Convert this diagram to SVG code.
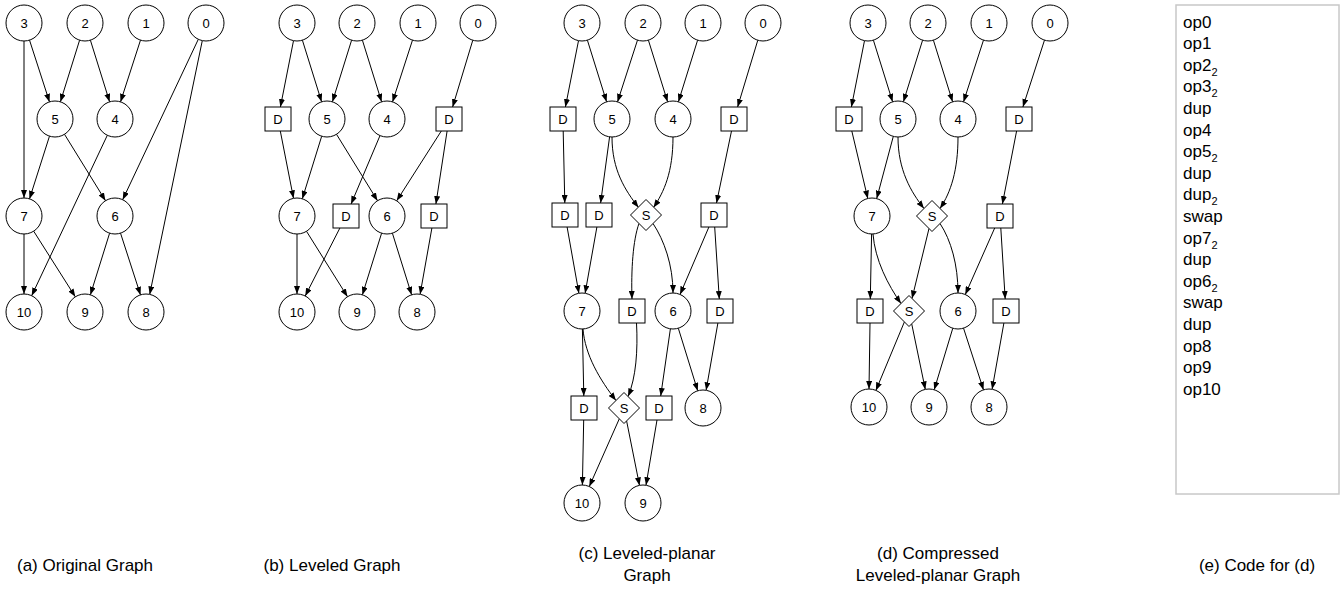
<svg xmlns="http://www.w3.org/2000/svg" width="1344" height="601" viewBox="0 0 1344 601">
  <defs>
    <marker id="arrow" markerUnits="userSpaceOnUse" markerWidth="8" markerHeight="6" refX="8" refY="3" orient="auto">
      <path d="M0,0 L8,3 L0,6 z" fill="#000"/>
    </marker>
    <style>
      .op circle { fill: #fff; stroke: #000; stroke-width: 1; }
      .dup rect { fill: #fff; stroke: #000; stroke-width: 1; }
      .swap path { fill: #fff; stroke: #000; stroke-width: 1; }
      .lbl { font-family: "Liberation Sans", Arial, sans-serif; font-size: 13px; text-anchor: middle; fill: #000; }
      .edges line, .edges path { stroke: #000; stroke-width: 1; fill: none; marker-end: url(#arrow); }
      .cap { font-family: "Liberation Sans", Arial, sans-serif; font-size: 17px; text-anchor: middle; fill: #000; }
      .code { font-family: "Liberation Sans", Arial, sans-serif; font-size: 17px; fill: #000; }
      .sub { font-size: 11px; }
    </style>
  </defs>
  <rect width="1344" height="601" fill="#fff"/>

  <!-- (a) original graph -->
  <g id="graph-a">
    <g class="edges" id="a-edges">
      <line x1="29.5" y1="40.1" x2="49.5" y2="101.9"/>
      <line x1="24" y1="41" x2="24" y2="198"/>
      <line x1="79.6" y1="40.2" x2="60.4" y2="101.8"/>
      <line x1="90.4" y1="40.2" x2="109.6" y2="101.8"/>
      <line x1="140.5" y1="40.1" x2="120.5" y2="101.9"/>
      <line x1="198.3" y1="39.3" x2="122.7" y2="199.7"/>
      <line x1="202.3" y1="40.6" x2="149.7" y2="294.4"/>
      <line x1="49.5" y1="136.1" x2="29.5" y2="198.9"/>
      <line x1="64.5" y1="134.3" x2="105.5" y2="200.7"/>
      <line x1="107.3" y1="135.3" x2="31.7" y2="295.7"/>
      <line x1="24" y1="234" x2="24" y2="294"/>
      <line x1="33.7" y1="231.2" x2="75.3" y2="296.8"/>
      <line x1="109.6" y1="233.2" x2="90.4" y2="294.8"/>
      <line x1="120.5" y1="233.1" x2="140.5" y2="294.9"/>
    </g>
    <g id="a-n3" class="op"><circle cx="24" cy="23" r="18"/><text class="lbl" x="24" y="27.5">3</text></g>
    <g id="a-n2" class="op"><circle cx="85" cy="23" r="18"/><text class="lbl" x="85" y="27.5">2</text></g>
    <g id="a-n1" class="op"><circle cx="146" cy="23" r="18"/><text class="lbl" x="146" y="27.5">1</text></g>
    <g id="a-n0" class="op"><circle cx="206" cy="23" r="18"/><text class="lbl" x="206" y="27.5">0</text></g>
    <g id="a-n5" class="op"><circle cx="55" cy="119" r="18"/><text class="lbl" x="55" y="123.5">5</text></g>
    <g id="a-n4" class="op"><circle cx="115" cy="119" r="18"/><text class="lbl" x="115" y="123.5">4</text></g>
    <g id="a-n7" class="op"><circle cx="24" cy="216" r="18"/><text class="lbl" x="24" y="220.5">7</text></g>
    <g id="a-n6" class="op"><circle cx="115" cy="216" r="18"/><text class="lbl" x="115" y="220.5">6</text></g>
    <g id="a-n10" class="op"><circle cx="24" cy="312" r="18"/><text class="lbl" x="24" y="316.5">10</text></g>
    <g id="a-n9" class="op"><circle cx="85" cy="312" r="18"/><text class="lbl" x="85" y="316.5">9</text></g>
    <g id="a-n8" class="op"><circle cx="146" cy="312" r="18"/><text class="lbl" x="146" y="316.5">8</text></g>
  </g>

  <!-- (b) leveled graph -->
  <g id="graph-b">
    <g class="edges" id="b-edges">
      <line x1="293.5" y1="40.7" x2="280.4" y2="107"/>
      <line x1="302.4" y1="40.2" x2="321.6" y2="101.8"/>
      <line x1="351.6" y1="40.2" x2="332.4" y2="101.8"/>
      <line x1="362.4" y1="40.2" x2="381.6" y2="101.8"/>
      <line x1="412.5" y1="40.1" x2="392.5" y2="101.9"/>
      <line x1="472.8" y1="40.2" x2="452.6" y2="107"/>
      <line x1="280.3" y1="131" x2="293.5" y2="198.3"/>
      <line x1="321.7" y1="136.2" x2="302.3" y2="198.8"/>
      <line x1="336.5" y1="134.3" x2="377.5" y2="200.7"/>
      <line x1="380" y1="135.6" x2="351.1" y2="204"/>
      <line x1="441.3" y1="131" x2="396.7" y2="200.8"/>
      <line x1="447.1" y1="131" x2="435.9" y2="204"/>
      <line x1="297" y1="234" x2="297" y2="294"/>
      <line x1="306.5" y1="231.3" x2="347.5" y2="296.7"/>
      <line x1="339.9" y1="228" x2="305.2" y2="296"/>
      <line x1="381.6" y1="233.2" x2="362.4" y2="294.8"/>
      <line x1="392.4" y1="233.2" x2="411.6" y2="294.8"/>
      <line x1="431.9" y1="228" x2="420.1" y2="294.3"/>
    </g>
    <g id="b-n3" class="op"><circle cx="297" cy="23" r="18"/><text class="lbl" x="297" y="27.5">3</text></g>
    <g id="b-n2" class="op"><circle cx="357" cy="23" r="18"/><text class="lbl" x="357" y="27.5">2</text></g>
    <g id="b-n1" class="op"><circle cx="418" cy="23" r="18"/><text class="lbl" x="418" y="27.5">1</text></g>
    <g id="b-n0" class="op"><circle cx="478" cy="23" r="18"/><text class="lbl" x="478" y="27.5">0</text></g>
    <g id="b-d1" class="dup"><rect x="265" y="107" width="26" height="24"/><text class="lbl" x="278" y="123.5">D</text></g>
    <g id="b-n5" class="op"><circle cx="327" cy="119" r="18"/><text class="lbl" x="327" y="123.5">5</text></g>
    <g id="b-n4" class="op"><circle cx="387" cy="119" r="18"/><text class="lbl" x="387" y="123.5">4</text></g>
    <g id="b-d2" class="dup"><rect x="436" y="107" width="26" height="24"/><text class="lbl" x="449" y="123.5">D</text></g>
    <g id="b-n7" class="op"><circle cx="297" cy="216" r="18"/><text class="lbl" x="297" y="220.5">7</text></g>
    <g id="b-d3" class="dup"><rect x="333" y="204" width="26" height="24"/><text class="lbl" x="346" y="220.5">D</text></g>
    <g id="b-n6" class="op"><circle cx="387" cy="216" r="18"/><text class="lbl" x="387" y="220.5">6</text></g>
    <g id="b-d4" class="dup"><rect x="421" y="204" width="26" height="24"/><text class="lbl" x="434" y="220.5">D</text></g>
    <g id="b-n10" class="op"><circle cx="297" cy="312" r="18"/><text class="lbl" x="297" y="316.5">10</text></g>
    <g id="b-n9" class="op"><circle cx="357" cy="312" r="18"/><text class="lbl" x="357" y="316.5">9</text></g>
    <g id="b-n8" class="op"><circle cx="417" cy="312" r="18"/><text class="lbl" x="417" y="316.5">8</text></g>
  </g>

  <!-- (c) leveled-planar graph -->
  <g id="graph-c">
    <g class="edges" id="c-edges">
      <line x1="578.5" y1="40.7" x2="565.4" y2="107"/>
      <line x1="587.4" y1="40.2" x2="606.6" y2="101.8"/>
      <line x1="637.5" y1="40.1" x2="617.5" y2="101.9"/>
      <line x1="648.4" y1="40.2" x2="667.6" y2="101.8"/>
      <line x1="697.6" y1="40.2" x2="678.4" y2="101.8"/>
      <line x1="757.8" y1="40.2" x2="737.6" y2="107"/>
      <line x1="563.2" y1="131" x2="564.8" y2="203"/>
      <line x1="609.6" y1="136.8" x2="600.6" y2="203"/>
      <path d="M612,137 C612,170 625,190 638.5,207.5"/>
      <path d="M673,137 C673,172 664,192 653.5,207.5"/>
      <line x1="731.5" y1="131" x2="716.5" y2="203"/>
      <line x1="567.1" y1="227" x2="578.9" y2="293.3"/>
      <line x1="596.9" y1="227" x2="585.1" y2="293.3"/>
      <path d="M639,223.5 C633,240 631,270 632,299"/>
      <path d="M653,223.5 C664,240 673,265 673,293"/>
      <line x1="708.9" y1="227" x2="680.1" y2="294.4"/>
      <line x1="714.7" y1="227" x2="719.3" y2="299"/>
      <line x1="582.4" y1="329" x2="583.8" y2="396"/>
      <path d="M583,329 C585,355 600,380 616,400.5"/>
      <path d="M636.5,323 C638,350 636,378 628,396.5"/>
      <line x1="670.4" y1="328.8" x2="660.7" y2="396"/>
      <line x1="678.3" y1="328.2" x2="697.7" y2="390.8"/>
      <line x1="717.9" y1="323" x2="706.1" y2="390.3"/>
      <line x1="583.7" y1="420" x2="582.4" y2="485"/>
      <line x1="619.3" y1="418.8" x2="589.3" y2="486.5"/>
      <line x1="626.6" y1="420.9" x2="639.5" y2="485.4"/>
      <line x1="657" y1="420" x2="646" y2="485.2"/>
    </g>
    <g id="c-n3" class="op"><circle cx="582" cy="23" r="18"/><text class="lbl" x="582" y="27.5">3</text></g>
    <g id="c-n2" class="op"><circle cx="643" cy="23" r="18"/><text class="lbl" x="643" y="27.5">2</text></g>
    <g id="c-n1" class="op"><circle cx="703" cy="23" r="18"/><text class="lbl" x="703" y="27.5">1</text></g>
    <g id="c-n0" class="op"><circle cx="763" cy="23" r="18"/><text class="lbl" x="763" y="27.5">0</text></g>
    <g id="c-d1" class="dup"><rect x="550" y="107" width="26" height="24"/><text class="lbl" x="563" y="123.5">D</text></g>
    <g id="c-n5" class="op"><circle cx="612" cy="119" r="18"/><text class="lbl" x="612" y="123.5">5</text></g>
    <g id="c-n4" class="op"><circle cx="673" cy="119" r="18"/><text class="lbl" x="673" y="123.5">4</text></g>
    <g id="c-d2" class="dup"><rect x="721" y="107" width="26" height="24"/><text class="lbl" x="734" y="123.5">D</text></g>
    <g id="c-d3" class="dup"><rect x="552" y="203" width="26" height="24"/><text class="lbl" x="565" y="219.5">D</text></g>
    <g id="c-d4" class="dup"><rect x="586" y="203" width="26" height="24"/><text class="lbl" x="599" y="219.5">D</text></g>
    <g id="c-s1" class="swap"><path d="M646,199.5 L661.5,215 L646,230.5 L630.5,215 z"/><text class="lbl" x="646" y="219.5">S</text></g>
    <g id="c-d5" class="dup"><rect x="701" y="203" width="26" height="24"/><text class="lbl" x="714" y="219.5">D</text></g>
    <g id="c-n7" class="op"><circle cx="582" cy="311" r="18"/><text class="lbl" x="582" y="315.5">7</text></g>
    <g id="c-d6" class="dup"><rect x="619" y="299" width="26" height="24"/><text class="lbl" x="632" y="315.5">D</text></g>
    <g id="c-n6" class="op"><circle cx="673" cy="311" r="18"/><text class="lbl" x="673" y="315.5">6</text></g>
    <g id="c-d7" class="dup"><rect x="707" y="299" width="26" height="24"/><text class="lbl" x="720" y="315.5">D</text></g>
    <g id="c-d8" class="dup"><rect x="571" y="396" width="26" height="24"/><text class="lbl" x="584" y="412.5">D</text></g>
    <g id="c-s2" class="swap"><path d="M624,392.5 L639.5,408 L624,423.5 L608.5,408 z"/><text class="lbl" x="624" y="412.5">S</text></g>
    <g id="c-d9" class="dup"><rect x="646" y="396" width="26" height="24"/><text class="lbl" x="659" y="412.5">D</text></g>
    <g id="c-n8" class="op"><circle cx="703" cy="408" r="18"/><text class="lbl" x="703" y="412.5">8</text></g>
    <g id="c-n10" class="op"><circle cx="582" cy="503" r="18"/><text class="lbl" x="582" y="507.5">10</text></g>
    <g id="c-n9" class="op"><circle cx="643" cy="503" r="18"/><text class="lbl" x="643" y="507.5">9</text></g>
  </g>

  <!-- (d) compressed leveled-planar graph -->
  <g id="graph-d">
    <g class="edges" id="d-edges">
      <line x1="864.5" y1="40.7" x2="851.4" y2="107"/>
      <line x1="873.4" y1="40.2" x2="892.6" y2="101.8"/>
      <line x1="922.6" y1="40.2" x2="903.4" y2="101.8"/>
      <line x1="933.4" y1="40.2" x2="952.6" y2="101.8"/>
      <line x1="983.5" y1="40.1" x2="963.5" y2="101.9"/>
      <line x1="1044.5" y1="40.1" x2="1022.9" y2="107"/>
      <line x1="851.8" y1="131" x2="867.8" y2="198.5"/>
      <line x1="893.3" y1="136.4" x2="876.7" y2="198.6"/>
      <path d="M898,137 C898,170 911,192 924,208.5"/>
      <path d="M958,137 C958,170 951,192 940,208.5"/>
      <line x1="1016.6" y1="131" x2="1002.4" y2="204"/>
      <line x1="871.6" y1="234" x2="870.3" y2="299"/>
      <path d="M873,234 C875,260 888,285 901,303.5"/>
      <line x1="929" y1="228.5" x2="912" y2="298.5"/>
      <path d="M940,223.5 C951,240 958,265 958,293"/>
      <line x1="994.7" y1="228" x2="965.3" y2="294.5"/>
      <line x1="1000.8" y1="228" x2="1005.2" y2="299"/>
      <line x1="870" y1="323" x2="869" y2="389"/>
      <line x1="904.4" y1="321.9" x2="875.9" y2="390.4"/>
      <line x1="911.7" y1="323.8" x2="925.3" y2="389.4"/>
      <line x1="952.8" y1="328.2" x2="934.2" y2="389.8"/>
      <line x1="963.5" y1="328.1" x2="983.5" y2="389.9"/>
      <line x1="1003.9" y1="323" x2="992.1" y2="389.3"/>
    </g>
    <g id="d-n3" class="op"><circle cx="868" cy="23" r="18"/><text class="lbl" x="868" y="27.5">3</text></g>
    <g id="d-n2" class="op"><circle cx="928" cy="23" r="18"/><text class="lbl" x="928" y="27.5">2</text></g>
    <g id="d-n1" class="op"><circle cx="989" cy="23" r="18"/><text class="lbl" x="989" y="27.5">1</text></g>
    <g id="d-n0" class="op"><circle cx="1050" cy="23" r="18"/><text class="lbl" x="1050" y="27.5">0</text></g>
    <g id="d-d1" class="dup"><rect x="836" y="107" width="26" height="24"/><text class="lbl" x="849" y="123.5">D</text></g>
    <g id="d-n5" class="op"><circle cx="898" cy="119" r="18"/><text class="lbl" x="898" y="123.5">5</text></g>
    <g id="d-n4" class="op"><circle cx="958" cy="119" r="18"/><text class="lbl" x="958" y="123.5">4</text></g>
    <g id="d-d2" class="dup"><rect x="1006" y="107" width="26" height="24"/><text class="lbl" x="1019" y="123.5">D</text></g>
    <g id="d-n7" class="op"><circle cx="872" cy="216" r="18"/><text class="lbl" x="872" y="220.5">7</text></g>
    <g id="d-s1" class="swap"><path d="M932,200.5 L947.5,216 L932,231.5 L916.5,216 z"/><text class="lbl" x="932" y="220.5">S</text></g>
    <g id="d-d3" class="dup"><rect x="987" y="204" width="26" height="24"/><text class="lbl" x="1000" y="220.5">D</text></g>
    <g id="d-d4" class="dup"><rect x="857" y="299" width="26" height="24"/><text class="lbl" x="870" y="315.5">D</text></g>
    <g id="d-s2" class="swap"><path d="M909,295.5 L924.5,311 L909,326.5 L893.5,311 z"/><text class="lbl" x="909" y="315.5">S</text></g>
    <g id="d-n6" class="op"><circle cx="958" cy="311" r="18"/><text class="lbl" x="958" y="315.5">6</text></g>
    <g id="d-d5" class="dup"><rect x="993" y="299" width="26" height="24"/><text class="lbl" x="1006" y="315.5">D</text></g>
    <g id="d-n10" class="op"><circle cx="869" cy="407" r="18"/><text class="lbl" x="869" y="411.5">10</text></g>
    <g id="d-n9" class="op"><circle cx="929" cy="407" r="18"/><text class="lbl" x="929" y="411.5">9</text></g>
    <g id="d-n8" class="op"><circle cx="989" cy="407" r="18"/><text class="lbl" x="989" y="411.5">8</text></g>
  </g>

  <!-- (e) stack code listing -->
  <g id="code-listing">
    <rect x="1176" y="5" width="163" height="489" fill="#fff" stroke="#c8c8c8" stroke-width="1.5"/>
    <text class="code" x="1183" y="27.6">op0</text>
    <text class="code" x="1183" y="49.2">op1</text>
    <text class="code" x="1183" y="70.8">op2<tspan class="sub" dy="5">2</tspan></text>
    <text class="code" x="1183" y="92.4">op3<tspan class="sub" dy="5">2</tspan></text>
    <text class="code" x="1183" y="114">dup</text>
    <text class="code" x="1183" y="135.6">op4</text>
    <text class="code" x="1183" y="157.2">op5<tspan class="sub" dy="5">2</tspan></text>
    <text class="code" x="1183" y="178.8">dup</text>
    <text class="code" x="1183" y="200.4">dup<tspan class="sub" dy="5">2</tspan></text>
    <text class="code" x="1183" y="222">swap</text>
    <text class="code" x="1183" y="243.6">op7<tspan class="sub" dy="5">2</tspan></text>
    <text class="code" x="1183" y="265.2">dup</text>
    <text class="code" x="1183" y="286.8">op6<tspan class="sub" dy="5">2</tspan></text>
    <text class="code" x="1183" y="308.4">swap</text>
    <text class="code" x="1183" y="330">dup</text>
    <text class="code" x="1183" y="351.6">op8</text>
    <text class="code" x="1183" y="373.2">op9</text>
    <text class="code" x="1183" y="394.8">op10</text>
  </g>

  <!-- captions -->
  <g id="captions">
    <text class="cap" x="85" y="571">(a) Original Graph</text>
    <text class="cap" x="332" y="571">(b) Leveled Graph</text>
    <text class="cap" x="647" y="559">(c) Leveled-planar</text>
    <text class="cap" x="647" y="581">Graph</text>
    <text class="cap" x="938" y="559">(d) Compressed</text>
    <text class="cap" x="938" y="581">Leveled-planar Graph</text>
    <text class="cap" x="1257" y="571">(e) Code for (d)</text>
  </g>
</svg>
